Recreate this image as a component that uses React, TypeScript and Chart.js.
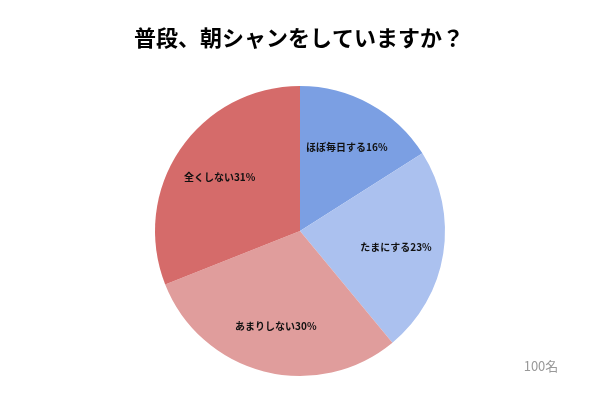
import React, { useEffect, useRef } from "react";
import { Chart, registerables } from "chart.js";

Chart.register(...registerables);

const titleText = "普段、朝シャンをしていますか？";
const categories = ["ほぼ毎日する", "たまにする", "あまりしない", "全くしない"];
const values = [16, 23, 30, 31];
const colors = ["#7b9fe3", "#abc1ef", "#e09d9c", "#d56b6a"];
const noteText = "100名";

const FONT = "'Noto Sans CJK JP', 'Liberation Sans', sans-serif";

export default function App() {
  const ref = useRef<HTMLCanvasElement | null>(null);
  useEffect(() => {
    if (!ref.current) return;
    const labelPlugin = {
      id: "labelPlugin",
      afterDraw(chart: any) {
        const ctx = chart.ctx;
        ctx.save();
        ctx.fillStyle = "#000";
        ctx.font = `bold 22px ${FONT}`;
        ctx.textAlign = "center";
        ctx.textBaseline = "middle";
        ctx.fillText(titleText, 299, 38);
        ctx.fillStyle = "#999";
        ctx.font = `13px ${FONT}`;
        ctx.fillText(noteText, 541, 366);
        const meta = chart.getDatasetMeta(0);
        ctx.fillStyle = "#111";
        ctx.font = `bold 10px ${FONT}`;
        meta.data.forEach((arc: any, i: number) => {
          const mid = (arc.startAngle + arc.endAngle) / 2;
          const r = arc.outerRadius * 0.67;
          const x = arc.x + Math.cos(mid) * r;
          const y = arc.y + Math.sin(mid) * r + 1;
          ctx.fillText(`${categories[i]}${values[i]}%`, x, y);
        });
        ctx.restore();
      },
    };
    const chart = new Chart(ref.current, {
      type: "pie",
      data: {
        labels: categories,
        datasets: [
          {
            data: values,
            backgroundColor: colors,
            borderWidth: 0,
          },
        ],
      },
      options: {
        animation: false,
        responsive: false,
        layout: { padding: { top: 86, bottom: 24, left: 155, right: 155 } },
        plugins: {
          legend: { display: false },
          title: { display: false },
          tooltip: { enabled: false },
        },
      },
      plugins: [labelPlugin],
    });
    return () => chart.destroy();
  }, []);
  return (
    <div style={{ position: "fixed", left: 0, top: 0, width: 600, height: 400, background: "#fff" }}>
      <canvas ref={ref} width={600} height={400} style={{ width: 600, height: 400 }} />
    </div>
  );
}
